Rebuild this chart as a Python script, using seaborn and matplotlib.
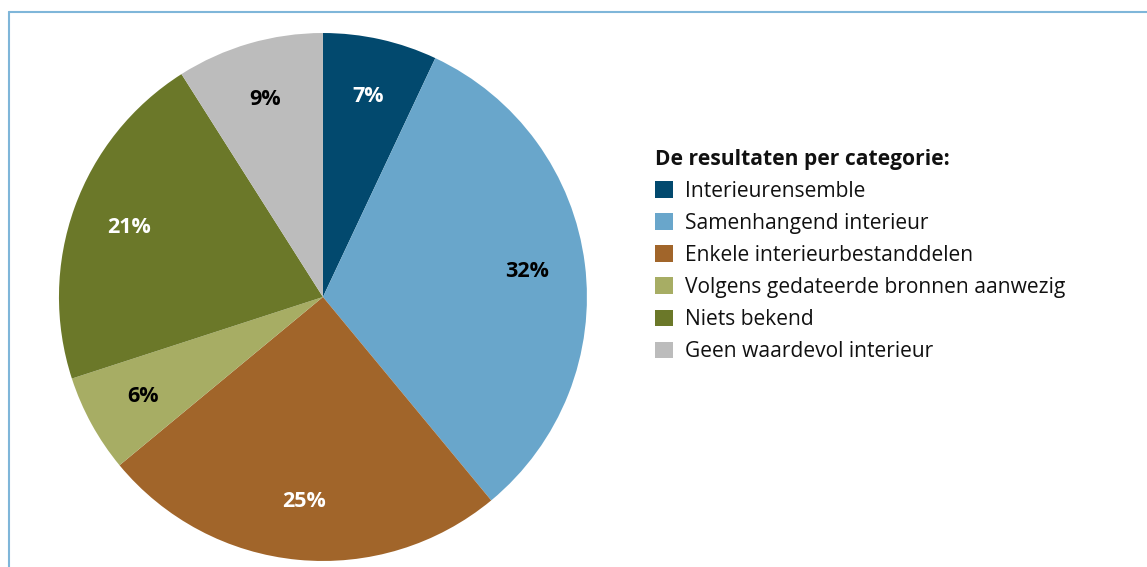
import seaborn as sns
import matplotlib.pyplot as plt
from matplotlib.patches import Patch
from matplotlib.lines import Line2D

# Data
categories = ['Interieurensemble', 'Samenhangend interieur', 'Enkele interieurbestanddelen',
              'Volgens gedateerde bronnen aanwezig', 'Niets bekend', 'Geen waardevol interieur']
shares = [7, 32, 25, 6, 21, 9]
label_colors = ['white', 'black', 'white', 'black', 'white', 'black']
colors = ['#02496e', '#69a6cb', '#a1652a', '#a7ad64', '#6b7829', '#bcbcbc']

sns.set_theme(style='white')
plt.rcParams['font.family'] = ['Open Sans', 'DejaVu Sans']
plt.rcParams['text.color'] = '#111111'

fig = plt.figure(figsize=(11.47, 5.67), dpi=100)
ax = fig.add_axes([0.0514, 0.0106, 0.4603, 0.9312])

wedges, texts, autotexts = ax.pie(shares, colors=colors, startangle=90, counterclock=False,
                                  autopct='%d%%', pctdistance=0.78, radius=1,
                                  wedgeprops=dict(linewidth=0))
for t, c in zip(autotexts, label_colors):
    t.set_color(c)
    t.set_fontsize(15.5)
    t.set_fontweight('bold')
ax.set_xlim(-1, 1)
ax.set_ylim(-1, 1)
ax.set_aspect('equal')

# Legend on the right
handles = [Patch(facecolor=c, edgecolor='none', label=l) for c, l in zip(colors, categories)]
leg = fig.legend(handles=handles, loc='upper left', bbox_to_anchor=(0.571, 0.738),
                 frameon=False, fontsize=15.1, title='De resultaten per categorie:',
                 title_fontproperties={'weight': 'bold', 'size': 15.1},
                 alignment='left', handlelength=0.85, handleheight=0.85,
                 handletextpad=0.6, labelspacing=0.53, borderpad=0, borderaxespad=0)
for t in leg.get_texts():
    t.set_color('#111111')
leg.get_title().set_color('#111111')

# Frame lines (top and left edges of the panel)
fig.add_artist(Line2D([8.5 / 1147, 8.5 / 1147], [0, 1 - 11.5 / 567], color='#7fb6d9',
                      linewidth=1.5, transform=fig.transFigure))
fig.add_artist(Line2D([8.5 / 1147, 1], [1 - 11.5 / 567, 1 - 11.5 / 567], color='#7fb6d9',
                      linewidth=1.5, transform=fig.transFigure))

fig.savefig('out.png', dpi=100)
